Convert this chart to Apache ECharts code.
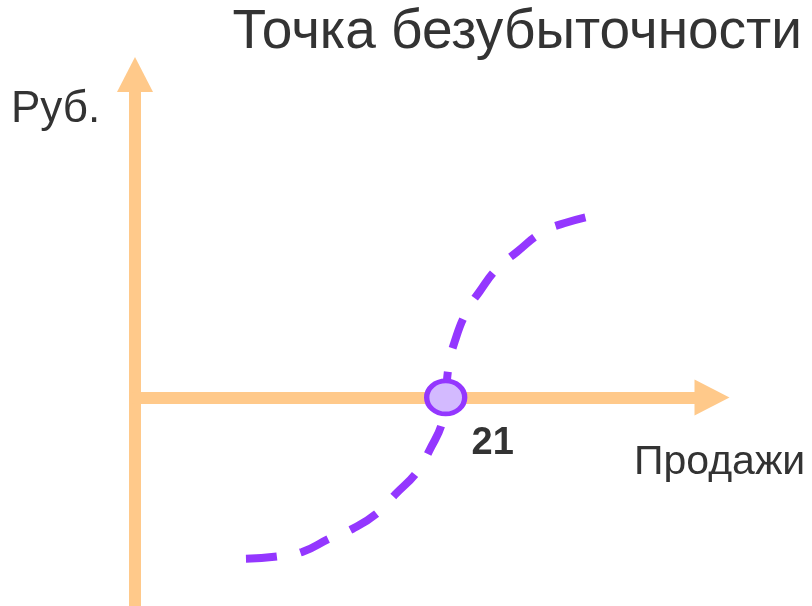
<!doctype html>
<html lang="ru">
<head>
    <meta charset="UTF-8">
    <title>Точка безубыточности</title>
    <style>
        *{margin: 0; padding: 0}
        body{background: #fff}
    </style>
</head>
<body>
<div id="block" style="width:812px;height:606px"></div>

<script src="https://cdn.jsdelivr.net/npm/echarts@6/dist/echarts.min.js"></script>
<script>
    // data
    const curveSales = [7.5, 9.6, 11.3, 13.2, 14.7, 16.4, 17.6, 19.1, 19.9, 20.8, 21, 21.2, 21.6, 22.4, 23.3, 24.5, 25.8, 27.5, 29.0, 31.1];
    const curveRub   = [-7.0, -6.9, -6.7, -6.1, -5.7, -5.0, -4.2, -3.2, -2.3, -1.0, 0, 1.35, 2.4, 3.7, 4.6, 5.6, 6.3, 7.15, 7.55, 7.9];
    const breakEven = [21, 0];
    const breakEvenLabel = '21';

    const titleText = 'Точка безубыточности';
    const yName = 'Руб.';
    const xName = 'Продажи';

    const orange = '#FFC98A';
    const purple = '#9437FF';
    const font = '"Liberation Sans", Arial, sans-serif';

    let curve = [];
    for (let i = 0; i < curveSales.length; i++) curve.push([curveSales[i], curveRub[i]]);

    const axisLine = {
        show: true,
        onZero: true,
        symbol: ['none', 'triangle'],
        symbolSize: [36, 35],
        lineStyle: {color: orange, width: 12}
    };

    const chart = echarts.init(document.getElementById('block'));
    chart.setOption({
        animation: false,
        title: [{
            text: titleText, right: 10, top: 5, padding: 0,
            textStyle: {fontFamily: font, fontSize: 55, fontWeight: 'normal', color: '#333'}
        }, {
            text: yName, left: 11, top: 88, padding: 0,
            textStyle: {fontFamily: font, fontSize: 44, fontWeight: 'normal', color: '#333'}
        }, {
            text: xName, left: 634, top: 442, padding: 0,
            textStyle: {fontFamily: font, fontSize: 41, fontWeight: 'normal', color: '#333'}
        }],
        grid: {left: 135, top: 74.5, width: 577, bottom: 1},
        xAxis: {
            type: 'value', min: 0, max: 39,
            axisLine: axisLine,
            axisTick: {show: false}, axisLabel: {show: false}, splitLine: {show: false}
        },
        yAxis: {
            type: 'value', min: -9, max: 14,
            axisLine: axisLine,
            axisTick: {show: false}, axisLabel: {show: false}, splitLine: {show: false}
        },
        series: [{
            type: 'line',
            data: curve,
            smooth: true,
            showSymbol: false,
            z: 2,
            lineStyle: {color: purple, width: 8, type: [31, 24]}
        }, {
            type: 'scatter',
            data: [breakEven],
            z: 5,
            symbol: 'path://M0,18A21,18,0,1,1,42,18A21,18,0,1,1,0,18Z',
            symbolSize: [38, 33],
            itemStyle: {color: '#D3BAFF', borderColor: purple, borderWidth: 5, opacity: 1},
            label: {
                show: true, position: 'inside', offset: [47, 46],
                formatter: breakEvenLabel,
                fontFamily: font, fontSize: 38, fontWeight: 'bold', color: '#333'
            }
        }]
    });
</script>
</body>
</html>
